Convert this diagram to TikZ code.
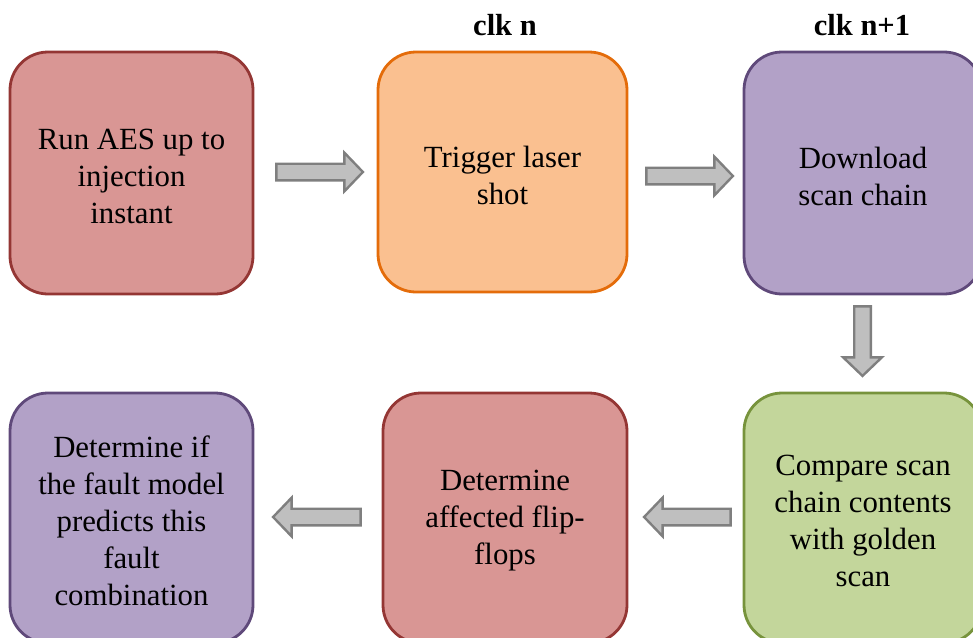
\documentclass[tikz,border=0pt]{standalone}
\usepackage{fontspec}
\setmainfont{Liberation Serif}
\usetikzlibrary{calc}
\definecolor{redfill}{HTML}{D99694}
\definecolor{redline}{HTML}{943634}
\definecolor{orfill}{HTML}{FAC090}
\definecolor{orline}{HTML}{E46C0A}
\definecolor{pufill}{HTML}{B2A1C7}
\definecolor{puline}{HTML}{5F497A}
\definecolor{grfill}{HTML}{C3D69B}
\definecolor{grline}{HTML}{77933C}
\definecolor{arrfill}{HTML}{BFBFBF}
\definecolor{arrline}{HTML}{7F7F7F}
\newcommand\blockarrow[3]{% #1 tail, #2 rotation, #3 length
  \draw[blockarr, shift={(#1)}, rotate=#2]
    (1,-8.3) -- (#3-20,-8.3) -- (#3-20,-19.3) -- (#3-1.5,0) -- (#3-20,19.3) -- (#3-20,8.3) -- (1,8.3) -- cycle;}
\begin{document}
\begin{tikzpicture}[x=1pt,y=1pt,
  box/.style={rounded corners=38pt, line width=2.8pt, inner sep=0pt},
  boxtext/.style={align=center, inner sep=0pt, yshift=-3pt, font=\fontsize{30.8}{37}\selectfont},
  redbox/.style={box, draw=redline, fill=redfill},
  orbox/.style={box, draw=orline, fill=orfill},
  pubox/.style={box, draw=puline, fill=pufill},
  grbox/.style={box, draw=grline, fill=grfill},
  blockarr/.style={draw=arrline, fill=arrfill, line width=2.4pt, line join=miter},
  clklabel/.style={font=\fontsize{30.5}{36}\selectfont\bfseries, anchor=base, inner sep=0pt}]
\useasboundingbox (0,0) rectangle (973,-637);
\node[redbox, minimum width=243pt, minimum height=242pt,
  label={[boxtext]center:{Run AES up to\\injection\\instant}}] (b1) at (131.5,-173) {};
\node[orbox, minimum width=249pt, minimum height=240pt,
  label={[boxtext]center:{Trigger laser\\shot}}] (b2) at (502.5,-172) {};
\node[pubox, minimum width=238pt, minimum height=242pt,
  label={[boxtext]center:{Download\\scan chain}}] (b3) at (863,-173) {};
\node[grbox, minimum width=238pt, minimum height=250pt,
  label={[boxtext]center:{Compare scan\\chain contents\\with golden\\scan}}] (b4) at (863,-518) {};
\node[redbox, minimum width=244pt, minimum height=250pt,
  label={[boxtext]center:{Determine\\affected flip-\\flops}}] (b5) at (505,-518) {};
\node[pubox, minimum width=243pt, minimum height=250pt,
  label={[boxtext]center:{Determine if\\the fault model\\predicts this\\fault\\combination}}] (b6) at (131.5,-518) {};
\node[clklabel] (c1) at (505,-35) {clk n};
\node[clklabel] (c2) at (862,-35) {clk n+1};
\coordinate (a1) at ($(b1.east)+(21,1)$);
\coordinate (a2) at ($(b2.east)+(17,-4)$);
\coordinate (a3) at ($(b3.south)+(-0.5,-10)$);
\coordinate (a4) at ($(b4.west)+(-11,1)$);
\coordinate (a5) at ($(b5.west)+(-20,1)$);
\blockarrow{a1}{0}{89}
\blockarrow{a2}{0}{89}
\blockarrow{a3}{-90}{72}
\blockarrow{a4}{180}{89}
\blockarrow{a5}{180}{90}
\end{tikzpicture}
\end{document}
